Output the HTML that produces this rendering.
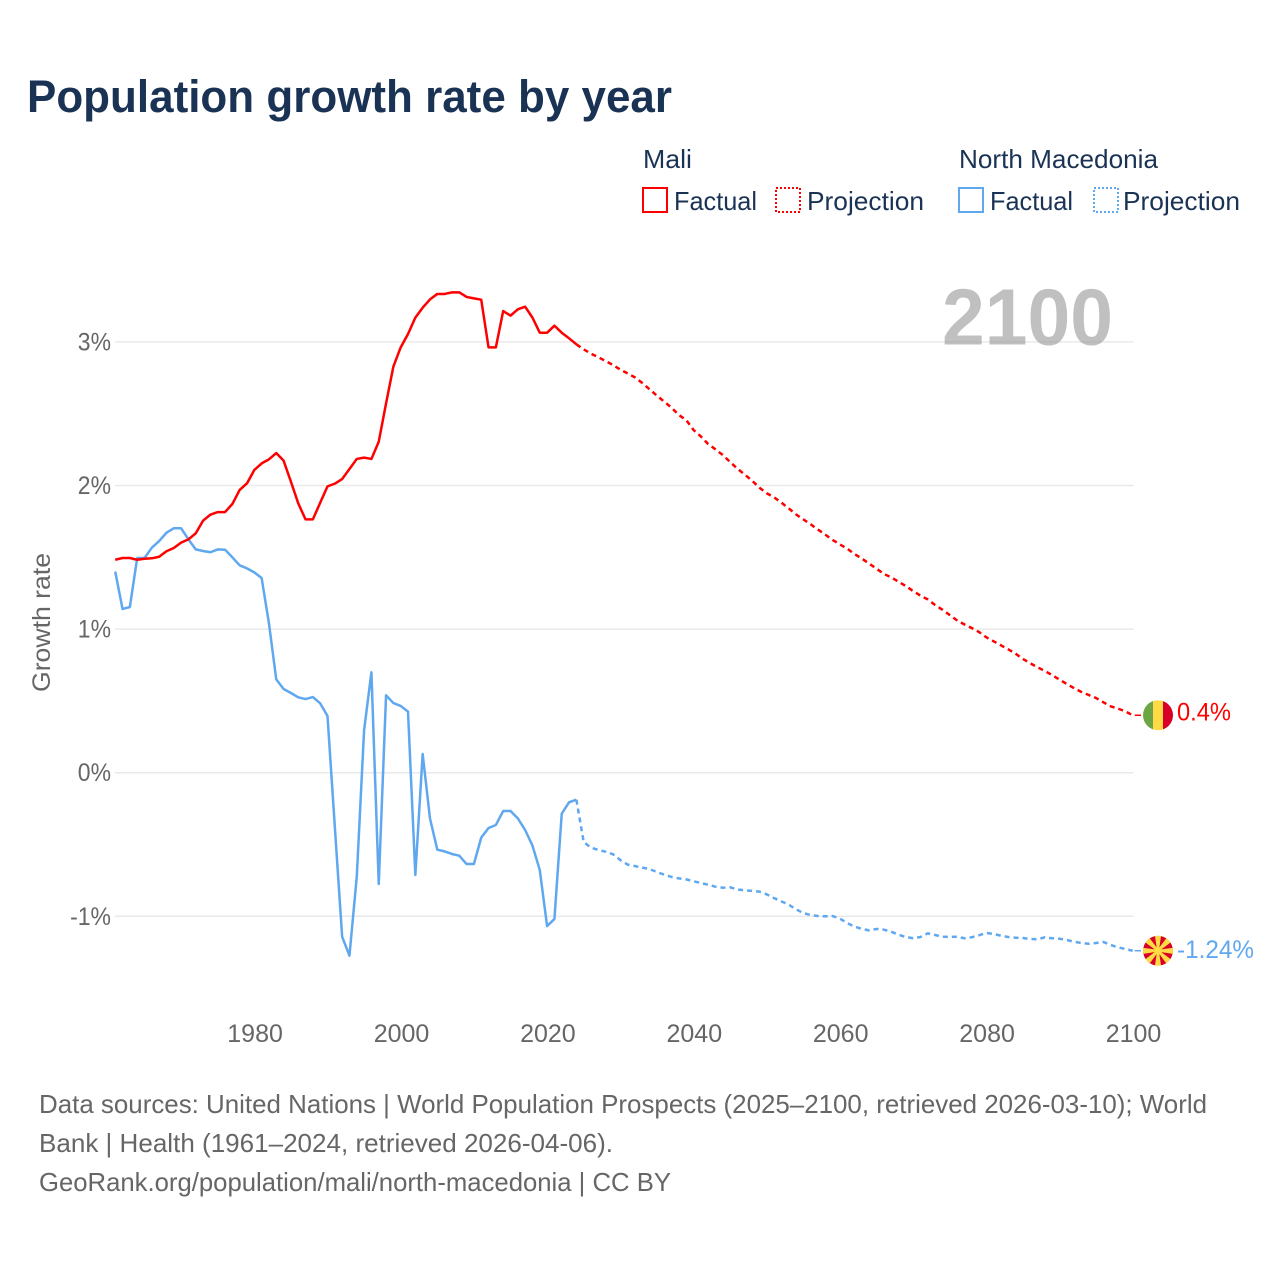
<!DOCTYPE html>
<html lang="en">
<head>
<meta charset="utf-8">
<title>Population growth rate by year</title>
<style>
html,body{margin:0;padding:0;background:#fff;}
svg{display:block;font-family:"Liberation Sans",Arial,sans-serif;}
</style>
</head>
<body>
<svg id="chart" width="1280" height="1280" viewBox="0 0 1280 1280" xmlns="http://www.w3.org/2000/svg">
  <rect width="1280" height="1280" fill="#fff"/>
  <text x="27" y="112" font-size="45" font-weight="700" fill="#1a3355" textLength="645" lengthAdjust="spacingAndGlyphs">Population growth rate by year</text>

  <g font-size="26" fill="#1a3355">
    <text x="643" y="168" textLength="49" lengthAdjust="spacingAndGlyphs">Mali</text>
    <text x="959" y="168" textLength="199" lengthAdjust="spacingAndGlyphs">North Macedonia</text>
    <rect x="643" y="188" width="24" height="24" fill="none" stroke="#ff0000" stroke-width="2"/>
    <text x="674" y="210" textLength="83" lengthAdjust="spacingAndGlyphs">Factual</text>
    <rect x="776" y="188" width="24" height="24" fill="none" stroke="#ff0000" stroke-width="2" stroke-dasharray="2 2"/>
    <text x="807" y="210" textLength="117" lengthAdjust="spacingAndGlyphs">Projection</text>
    <rect x="959" y="188" width="24" height="24" fill="none" stroke="#5fa8f0" stroke-width="2"/>
    <text x="990" y="210" textLength="83" lengthAdjust="spacingAndGlyphs">Factual</text>
    <rect x="1094" y="188" width="24" height="24" fill="none" stroke="#5fa8f0" stroke-width="2" stroke-dasharray="2 2"/>
    <text x="1123" y="210" textLength="117" lengthAdjust="spacingAndGlyphs">Projection</text>
  </g>

  <g id="grid"></g>
  <text x="942" y="344.5" font-size="80" font-weight="700" fill="#999" fill-opacity="0.62" textLength="171" lengthAdjust="spacingAndGlyphs">2100</text>
  <g id="yticks" font-size="25" fill="#666" text-anchor="end"></g>
  <g id="xticks" font-size="25" fill="#666" text-anchor="middle"></g>
  <text transform="translate(50,692) rotate(-90)" font-size="25" fill="#666" textLength="139" lengthAdjust="spacingAndGlyphs">Growth rate</text>
  <g id="lines"></g>

  <g id="flag-mali">
    <clipPath id="clip-mali"><circle cx="0" cy="0" r="15"/></clipPath>
    <g clip-path="url(#clip-mali)">
      <rect x="-15" y="-15" width="10" height="30" fill="#6da544"/>
      <rect x="-5" y="-15" width="10" height="30" fill="#ffda44"/>
      <rect x="5" y="-15" width="10" height="30" fill="#d80027"/>
    </g>
  </g>
  <g id="flag-mk">
    <clipPath id="clip-mk"><circle cx="0" cy="0" r="15"/></clipPath>
    <g clip-path="url(#clip-mk)">
      <circle r="15" fill="#d80027"/>
      <g fill="#ffda44">
        <polygon points="-3.2,-16 3.2,-16 0.9,0 -0.9,0"/>
        <polygon points="-3.2,-16 3.2,-16 0.9,0 -0.9,0" transform="rotate(45)"/>
        <polygon points="-3.2,-16 3.2,-16 0.9,0 -0.9,0" transform="rotate(90)"/>
        <polygon points="-3.2,-16 3.2,-16 0.9,0 -0.9,0" transform="rotate(135)"/>
        <polygon points="-3.2,-16 3.2,-16 0.9,0 -0.9,0" transform="rotate(180)"/>
        <polygon points="-3.2,-16 3.2,-16 0.9,0 -0.9,0" transform="rotate(225)"/>
        <polygon points="-3.2,-16 3.2,-16 0.9,0 -0.9,0" transform="rotate(270)"/>
        <polygon points="-3.2,-16 3.2,-16 0.9,0 -0.9,0" transform="rotate(315)"/>
        <circle r="3.8"/>
      </g>
    </g>
  </g>
  <text id="end-mali" x="1177" font-size="25" fill="#ff0000" textLength="54" lengthAdjust="spacingAndGlyphs"></text>
  <text id="end-mk" x="1177" font-size="25" fill="#5fa8f0" textLength="77" lengthAdjust="spacingAndGlyphs"></text>

  <g font-size="26" fill="#666">
    <text x="39" y="1113" textLength="1168" lengthAdjust="spacingAndGlyphs">Data sources: United Nations | World Population Prospects (2025–2100, retrieved 2026-03-10); World</text>
    <text x="39" y="1152" textLength="574" lengthAdjust="spacingAndGlyphs">Bank | Health (1961–2024, retrieved 2026-04-06).</text>
    <text x="39" y="1191" textLength="632" lengthAdjust="spacingAndGlyphs">GeoRank.org/population/mali/north-macedonia | CC BY</text>
  </g>
</svg>
<script>
const factualStartYear = 1961;
const projectionStartYear = 2025;
const yTickValues = [3, 2, 1, 0, -1];
const yTickLabels = ["3%", "2%", "1%", "0%", "-1%"];
const xTickYears = [1980, 2000, 2020, 2040, 2060, 2080, 2100];
const maliFactual = [1.483,1.495,1.495,1.483,1.490,1.493,1.504,1.542,1.565,1.602,1.625,1.667,1.755,1.797,1.815,1.815,1.871,1.969,2.015,2.108,2.154,2.182,2.226,2.173,2.027,1.876,1.764,1.764,1.880,1.994,2.013,2.045,2.115,2.185,2.194,2.185,2.305,2.572,2.828,2.962,3.055,3.169,3.238,3.296,3.334,3.334,3.345,3.345,3.313,3.303,3.294,2.962,2.962,3.215,3.183,3.227,3.245,3.169,3.064,3.064,3.113,3.064,3.025,2.983];
const maliProjection = [2.948,2.918,2.893,2.867,2.839,2.807,2.781,2.753,2.714,2.670,2.626,2.584,2.542,2.491,2.456,2.387,2.342,2.289,2.252,2.212,2.164,2.117,2.076,2.034,1.985,1.946,1.918,1.881,1.841,1.799,1.764,1.730,1.693,1.658,1.621,1.590,1.560,1.523,1.491,1.456,1.421,1.384,1.361,1.330,1.300,1.265,1.233,1.207,1.168,1.135,1.098,1.061,1.033,1.008,0.980,0.943,0.915,0.887,0.859,0.829,0.792,0.762,0.734,0.708,0.680,0.648,0.618,0.588,0.562,0.541,0.520,0.490,0.462,0.446,0.427,0.4];
const mkFactual = [1.400,1.140,1.154,1.495,1.495,1.567,1.613,1.671,1.702,1.702,1.625,1.555,1.544,1.535,1.555,1.553,1.500,1.444,1.423,1.395,1.356,1.040,0.650,0.583,0.555,0.525,0.513,0.527,0.483,0.395,-0.376,-1.142,-1.274,-0.724,0.297,0.699,-0.775,0.539,0.485,0.465,0.425,-0.712,0.130,-0.318,-0.536,-0.548,-0.566,-0.578,-0.636,-0.636,-0.452,-0.385,-0.364,-0.267,-0.267,-0.318,-0.399,-0.508,-0.678,-1.068,-1.019,-0.285,-0.206,-0.188];
const mkProjection = [-0.483,-0.522,-0.538,-0.550,-0.568,-0.608,-0.640,-0.650,-0.661,-0.671,-0.692,-0.710,-0.726,-0.736,-0.743,-0.756,-0.768,-0.780,-0.794,-0.801,-0.798,-0.814,-0.819,-0.823,-0.828,-0.847,-0.873,-0.896,-0.919,-0.951,-0.977,-0.991,-0.998,-1.000,-0.998,-1.016,-1.047,-1.072,-1.088,-1.098,-1.088,-1.093,-1.107,-1.128,-1.144,-1.153,-1.144,-1.119,-1.130,-1.142,-1.144,-1.142,-1.153,-1.146,-1.132,-1.116,-1.123,-1.135,-1.144,-1.149,-1.151,-1.158,-1.160,-1.146,-1.153,-1.156,-1.165,-1.177,-1.186,-1.191,-1.186,-1.179,-1.200,-1.216,-1.228,-1.24];

const NS = "http://www.w3.org/2000/svg";
function xScale(year) { return 1132.7 + (year - 2100) * 7.32; }
function yScale(value) { return 772.7 - value * 143.6; }
function make(parent, tag, attrs) {
  const el = document.createElementNS(NS, tag);
  for (const k in attrs) el.setAttribute(k, attrs[k]);
  parent.appendChild(el);
  return el;
}
function pathFrom(values, startYear, prefixYear, prefixValue) {
  const pts = [];
  if (prefixYear !== null) pts.push(xScale(prefixYear).toFixed(2) + "," + yScale(prefixValue).toFixed(2));
  values.forEach(function (v, i) {
    pts.push(xScale(startYear + i).toFixed(2) + "," + yScale(v).toFixed(2));
  });
  return "M" + pts.join("L");
}

const grid = document.getElementById("grid");
const yticks = document.getElementById("yticks");
yTickValues.forEach(function (v, i) {
  const line = make(grid, "line", { x1: 115, x2: 1133.5, y1: yScale(v), y2: yScale(v), stroke: "#e9e9e9", "stroke-width": 1.5 });
  
  
  const t = make(yticks, "text", { x: 111, y: yScale(v) + 8.5 });
  
  
  t.textContent = yTickLabels[i];
  t.setAttribute("textLength", (t.getComputedTextLength() * 0.92).toFixed(1));
  t.setAttribute("lengthAdjust", "spacingAndGlyphs");
});

const xticks = document.getElementById("xticks");
xTickYears.forEach(function (yr) {
  const t = make(xticks, "text", { x: xScale(yr) + 0.8, y: 1042 });
  
  
  t.textContent = String(yr);
});

const lines = document.getElementById("lines");
const RED = "#ff0000", BLUE = "#5fa8f0";
const common = { fill: "none", "stroke-width": 2.5, "stroke-linejoin": "round" };

const mkFactPath = make(lines, "path", Object.assign({ d: pathFrom(mkFactual, factualStartYear, null, 0), stroke: BLUE }, common));



const mkProjPath = make(lines, "path", Object.assign({ d: pathFrom(mkProjection, projectionStartYear, 2024, mkFactual[mkFactual.length - 1]), stroke: BLUE, "stroke-dasharray": "5 4" }, common));



const maliFactPath = make(lines, "path", Object.assign({ d: pathFrom(maliFactual, factualStartYear, null, 0), stroke: RED }, common));



const maliProjPath = make(lines, "path", Object.assign({ d: pathFrom(maliProjection, projectionStartYear, 2024, maliFactual[maliFactual.length - 1]), stroke: RED, "stroke-dasharray": "5 4" }, common));



const lastMali = maliProjection[maliProjection.length - 1];
const lastMk = mkProjection[mkProjection.length - 1];

const connMali = make(lines, "line", { x1: xScale(2100) + 2, x2: 1141, y1: yScale(lastMali), y2: yScale(lastMali), stroke: RED, "stroke-width": 1.5 });


const connMk = make(lines, "line", { x1: xScale(2100) + 2, x2: 1141, y1: yScale(lastMk), y2: yScale(lastMk), stroke: BLUE, "stroke-width": 1.5 });



document.getElementById("flag-mali").setAttribute("transform", "translate(1158," + yScale(lastMali) + ")");
document.getElementById("flag-mk").setAttribute("transform", "translate(1158," + yScale(lastMk) + ")");
const endMali = document.getElementById("end-mali");
endMali.setAttribute("y", yScale(lastMali) + 5);
endMali.textContent = lastMali + "%";
const endMk = document.getElementById("end-mk");
endMk.setAttribute("y", yScale(lastMk) + 7);
endMk.textContent = lastMk + "%";
</script>
</body>
</html>
